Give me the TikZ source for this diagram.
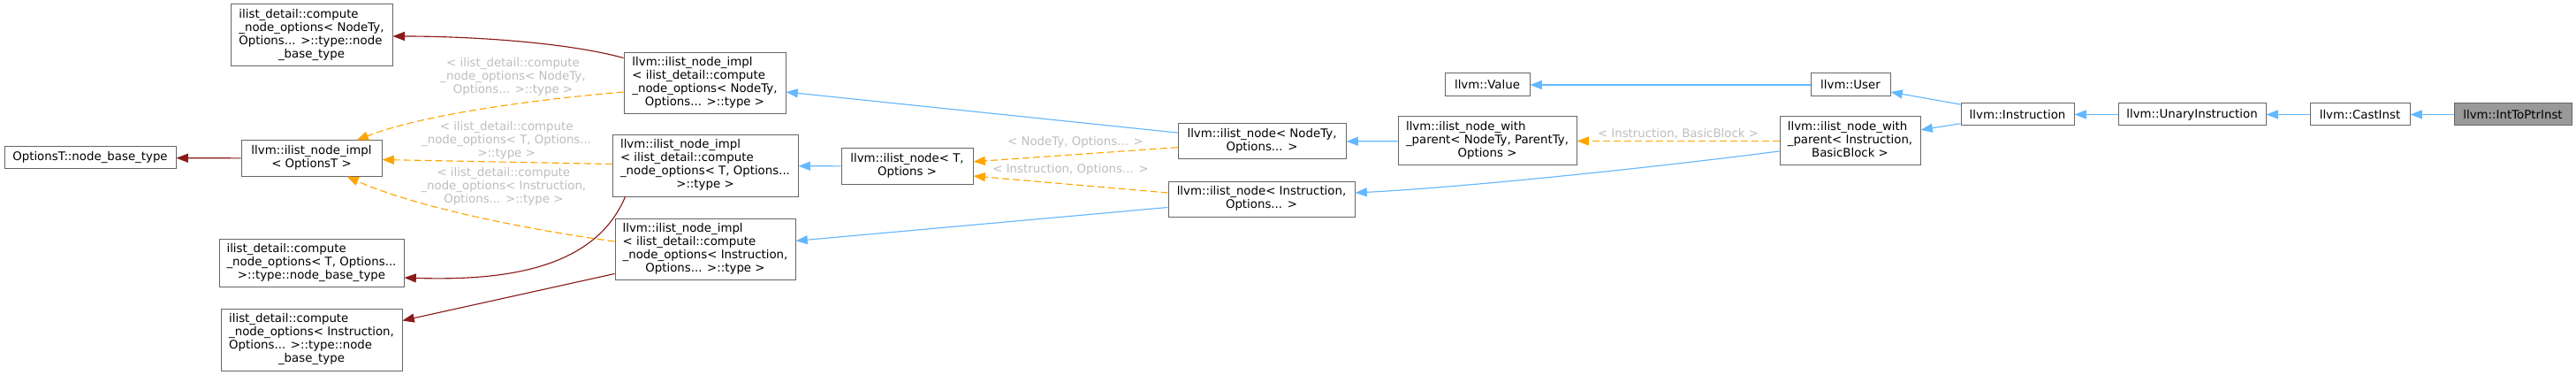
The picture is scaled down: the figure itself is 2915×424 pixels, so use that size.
\documentclass[tikz,border=0pt]{standalone}
\usepackage{fontspec}
\setmainfont{DejaVu Sans}
\usetikzlibrary{arrows.meta,positioning,calc}
\definecolor{edgeblue}{HTML}{63B8FF}
\definecolor{edgeorange}{HTML}{FFA500}
\definecolor{edgered}{HTML}{8B1A1A}
\definecolor{boxgray}{HTML}{666666}
\definecolor{curfill}{HTML}{999999}
\definecolor{lblgray}{HTML}{BEBEBE}
\newcommand{\cls}[2]{\begin{tabular}{@{}l@{}}#1\\\multicolumn{1}{@{}c@{}}{#2}\end{tabular}}

\begin{document}
\begin{tikzpicture}[
  x=0.75pt, y=-0.75pt,
  >={Triangle[length=10pt,width=7.5pt]},
  font=\fontsize{10}{11.25}\selectfont,
  cls/.style={rectangle, draw=boxgray, fill=white, line width=0.75pt, inner sep=0pt, align=center, minimum height=18.75pt},
  pub/.style={->, draw=edgeblue, line width=0.85pt},
  priv/.style={->, draw=edgered, line width=0.85pt},
  tmpl/.style={->, draw=edgeorange, line width=0.85pt, dash pattern=on 6pt off 3pt},
  lbl/.style={text=lblgray, align=center, inner sep=0pt}
]
  \path[use as bounding box, fill=white] (0,0) rectangle (2915,424);

  \node[cls, fill=curfill, minimum width=99.75pt] (ittp) at (2843.5,129.5) {llvm::IntToPtrInst};
  \node[cls, left=36.75pt of ittp, minimum width=84.75pt] (cast) {llvm::CastInst};
  \node[cls, left=36.75pt of cast, minimum width=125.25pt] (unary) {llvm::UnaryInstruction};
  \node[cls, left=36.75pt of unary, minimum width=96pt] (inst) {llvm::Instruction};
  \node[cls, minimum width=67.5pt, minimum height=19.5pt] (user) at (2094,96) {llvm::User};
  \node[cls, minimum width=72pt, minimum height=19.5pt] (value) at (1683,96) {llvm::Value};
  \node[cls, minimum width=119.25pt, minimum height=41.25pt] (wpinst) at (2093.5,159.5)
    {\cls{llvm::ilist\_node\_with\\\_parent< Instruction,}{BasicBlock >}};
  \node[cls, minimum width=151.5pt, minimum height=41.25pt] (wpnode) at (1683,159.5)
    {\cls{llvm::ilist\_node\_with\\\_parent< NodeTy, ParentTy,}{Options >}};
  \node[cls, minimum width=142.5pt, minimum height=30pt] (nodety) at (1428,160)
    {\cls{llvm::ilist\_node< NodeTy,}{Options... >}};
  \node[cls, minimum width=158.25pt, minimum height=30pt] (nodeinst) at (1427.5,225)
    {\cls{llvm::ilist\_node< Instruction,}{Options... >}};
  \node[cls, minimum width=111.75pt, minimum height=30pt] (nodet) at (1026.5,188)
    {\cls{llvm::ilist\_node< T,}{Options >}};
  \node[cls, minimum width=137.25pt, minimum height=51.75pt] (implnodety) at (797.5,94.5)
    {\cls{llvm::ilist\_node\_impl\\< ilist\_detail::compute\\\_node\_options< NodeTy,}{Options... >::type >}};
  \node[cls, minimum width=157.5pt, minimum height=51.75pt] (implt) at (798,187.5)
    {\cls{llvm::ilist\_node\_impl\\< ilist\_detail::compute\\\_node\_options< T, Options...}{>::type >}};
  \node[cls, minimum width=153pt, minimum height=51.75pt] (implinst) at (798,281.5)
    {\cls{llvm::ilist\_node\_impl\\< ilist\_detail::compute\\\_node\_options< Instruction,}{Options... >::type >}};
  \node[cls, minimum width=119.25pt, minimum height=30pt] (implopt) at (352.5,179)
    {\cls{llvm::ilist\_node\_impl}{< OptionsT >}};
  \node[cls, minimum width=137.25pt, minimum height=52.5pt] (basenodety) at (352.5,40)
    {\cls{ilist\_detail::compute\\\_node\_options< NodeTy,\\Options... >::type::node}{\_base\_type}};
  \node[cls, minimum width=156.75pt, minimum height=40.5pt] (baset) at (352.5,297)
    {\cls{ilist\_detail::compute\\\_node\_options< T, Options...}{>::type::node\_base\_type}};
  \node[cls, minimum width=153.75pt, minimum height=52.5pt] (baseinst) at (352.5,384)
    {\cls{ilist\_detail::compute\\\_node\_options< Instruction,\\Options... >::type::node}{\_base\_type}};
  \node[cls, minimum width=145.5pt] (optbase) at (102,178.5) {OptionsT::node\_base\_type};

  \draw[pub] (ittp) -- (cast);
  \draw[pub] (cast) -- (unary);
  \draw[pub] (unary) -- (inst);
  \draw[pub] (inst) -- (user);
  \draw[pub] (inst) -- (wpinst);
  \draw[pub] (user) -- (value);
  \draw[tmpl] (wpinst) -- node[lbl, above=1.5pt] {< Instruction, BasicBlock >} (wpnode);
  \draw[pub] ($(wpinst.west)+(0,11.5)$) .. controls +(-164,21) and +(117,-6) .. ($(nodeinst.east)+(0,-7)$);
  \draw[pub] (wpnode) -- (nodety);
  \draw[tmpl] (nodety) -- node[lbl, above=5.5pt] {< NodeTy, Options... >} (nodet);
  \draw[tmpl] ($(nodeinst.west)+(0,-7)$) -- node[lbl, above=7pt] {< Instruction, Options... >} ($(nodet.east)+(0,11)$);
  \draw[pub] (nodety) -- (implnodety);
  \draw[pub] (nodet) -- (implt);
  \draw[pub] (nodeinst) -- (implinst);

  \draw[priv] ($(implnodety.north west)+(0,6)$) .. controls +(-66,-18) and +(86,0) .. ($(basenodety.east)+(0,1)$);
  \draw[tmpl] ($(implnodety.west)+(0,9.5)$) .. controls +(-126,11) and +(67,-26) .. ($(implopt.north east)+(-29,0)$)
    node[lbl, pos=0.35, above=7pt] {< ilist\_detail::compute\\\_node\_options< NodeTy,\\Options... >::type >};
  \draw[tmpl] (implt) -- node[lbl, above=1.75pt, xshift=8pt] {< ilist\_detail::compute\\\_node\_options< T, Options...\\>::type >} (implopt);
  \draw[tmpl] ($(implinst.west)+(0,-8.5)$) .. controls +(-96,-13) and +(78,35) .. ($(implopt.south)+(40,0)$)
    node[lbl, pos=0.4, above=14.25pt] {< ilist\_detail::compute\\\_node\_options< Instruction,\\Options... >::type >};
  \draw[priv] ($(implt.south west)+(15,0)$) .. controls +(-33,78) and +(123,4) .. ($(baset.east)+(0,17)$);
  \draw[priv] ($(implinst.south west)+(0,-7)$) -- ($(baseinst.north east)+(0,14)$);
  \draw[priv] (implopt) -- (optbase);
\end{tikzpicture}
\end{document}
